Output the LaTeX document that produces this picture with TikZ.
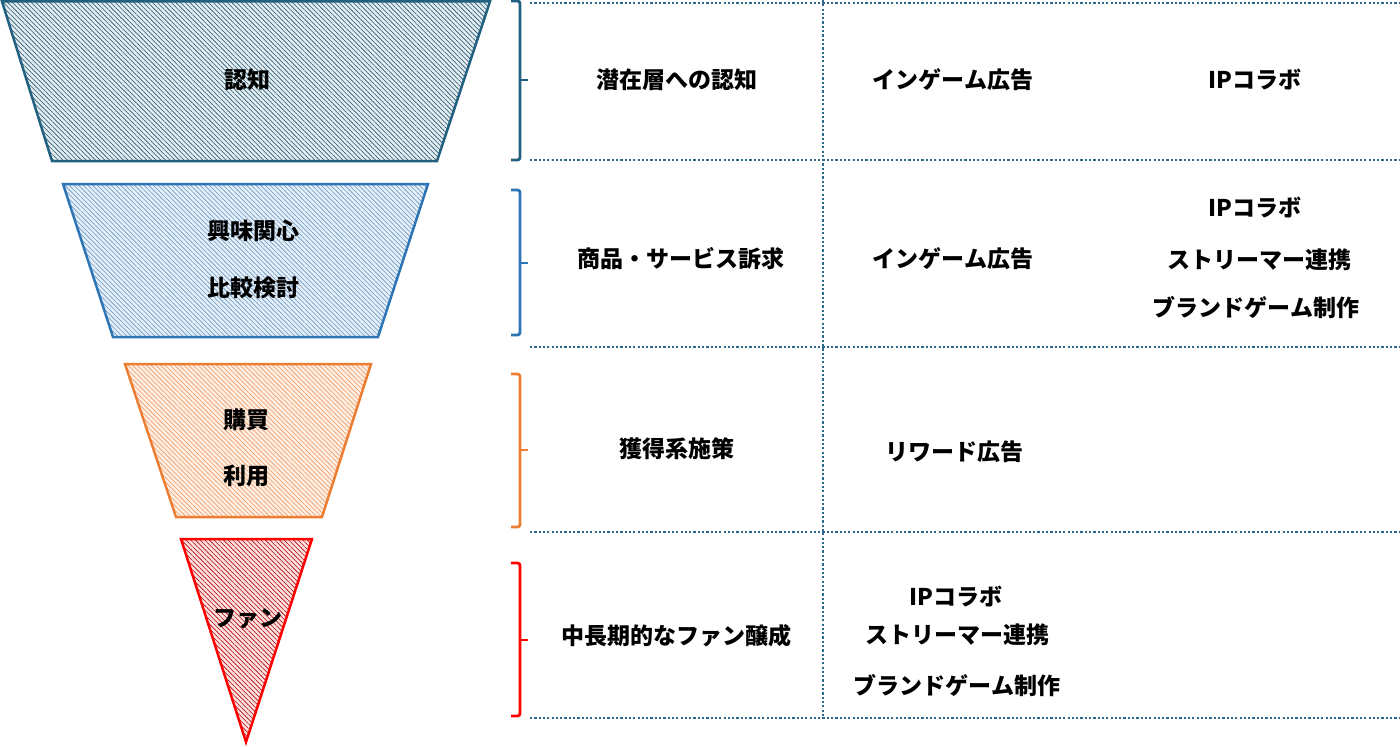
\documentclass[tikz,border=0pt]{standalone}
\usepackage{fontspec}
\newfontfamily\jp{Noto Sans CJK JP}
\usetikzlibrary{patterns.meta}
\definecolor{cteal}{HTML}{21607F}
\definecolor{cblue}{HTML}{2E75B6}
\definecolor{corange}{HTML}{ED7D31}
\definecolor{cred}{HTML}{FF0000}
\definecolor{cdot}{HTML}{2B6A8C}
\tikzset{
  txt/.style={font=\jp\bfseries\fontsize{23bp}{28bp}\selectfont, text=black, inner sep=0pt, anchor=center},
  funnel/.style={line width=2.5bp, line join=miter, draw=#1,
    preaction={fill=#1!12},
    pattern={Lines[angle=-45,distance=3.3bp,line width=0.6bp]}, pattern color=#1},
  bracket/.style={line width=2.8bp, draw=#1, rounded corners=2.5bp},
  grid/.style={draw=cdot, line width=2.8bp, dash pattern=on 2.2bp off 2.1bp}
}
\begin{document}
\begin{tikzpicture}[x=1bp,y=-1bp]
\useasboundingbox (0,0) rectangle (1400,746);
% funnel shapes
\path[funnel=cteal, pattern color=cteal!90!black] (2,1.5) -- (490,1.5) -- (437,161) -- (52,161) -- cycle;
\path[funnel=cblue, pattern color=cblue!75] (63,184) -- (428,184) -- (378,337) -- (113,337) -- cycle;
\path[funnel=corange, pattern color=corange!80] (125,364) -- (371,364) -- (322,517) -- (176,517) -- cycle;
\path[funnel=cred, pattern color=cred!70!black] (181,539) -- (312,539) -- (246,742) -- cycle;
% funnel labels
\node[txt] (l1) at (247,80) {認知};
\node[txt] (l2a) at (253,231) {興味関心};
\node[txt] (l2b) at (253,288) {比較検討};
\node[txt] (l3a) at (246,420) {購買};
\node[txt] (l3b) at (246,476) {利用};
\node[txt] (l4) at (248,619) {ファン};
% brackets
\foreach \t/\m/\b/\c in {1/80/160/cteal, 190/263/335/cblue, 374/450/527/corange, 563/640/716/cred}{
  \draw[bracket=\c] (511,\t) -- (520,\t) -- (520,\b) -- (511,\b);
  \draw[bracket=\c] (520,\m) -- (528,\m);
}
% grid
\foreach \y in {3,160,347,532,718}{
  \draw[grid] (530,\y) -- (1400,\y);
}
\draw[grid] (823,0) -- (823,718);
% column 1
\node[txt] (a1) at (677,80) {潜在層への認知};
\node[txt] (a2) at (681,259) {商品・サービス訴求};
\node[txt] (a3) at (677,449) {獲得系施策};
\node[txt] (a4) at (676,636) {中長期的なファン醸成};
% column 2
\node[txt] (b1) at (953,80) {インゲーム広告};
\node[txt] (b2) at (953,259) {インゲーム広告};
\node[txt] (b3) at (954,452) {リワード広告};
\node[txt] (b4a) at (956,597) {IPコラボ};
\node[txt] (b4b) at (957,635) {ストリーマー連携};
\node[txt] (b4c) at (957,686) {ブランドゲーム制作};
% column 3
\node[txt] (c1) at (1255,80) {IPコラボ};
\node[txt] (c2a) at (1255,208) {IPコラボ};
\node[txt] (c2b) at (1259,260) {ストリーマー連携};
\node[txt] (c2c) at (1256,308) {ブランドゲーム制作};
\end{tikzpicture}
\end{document}
